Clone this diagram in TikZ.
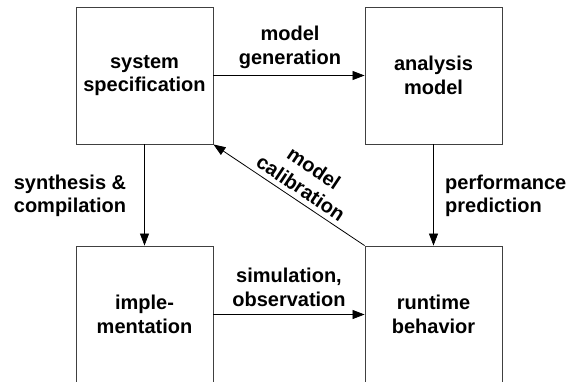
\documentclass[tikz,border=0pt]{standalone}
\usepackage{fontspec}
\setmainfont{Liberation Sans}
\usetikzlibrary{arrows.meta}
\tikzset{
  block/.style={draw=black!75, line width=0.9pt, minimum width=137pt, minimum height=137pt,
    inner sep=0pt, align=center, font=\labelfont},
  lbl/.style={inner sep=0pt, font=\labelfont},
  flow/.style={draw=black, line width=0.8pt, -{Triangle[length=12pt,width=9pt]}},
}
\newcommand{\labelfont}{\fontsize{20pt}{23.5pt}\selectfont\bfseries}
\begin{document}
\begin{tikzpicture}[x=1pt,y=-1pt]
\path[use as bounding box, clip] (0,0) rectangle (570,381);
\fill[white] (0,0) rectangle (570,381);

\node[block] (spec) at (144.5,75.5) {system\\specification};
\node[block] (anal) at (433.5,75.5) {analysis\\model};
\node[block] (impl) at (144.5,314.5) {imple-\\mentation};
\node[block] (run)  at (433.5,314.5) {runtime\\behavior};

\draw[flow] (spec.east) -- (anal.west);
\draw[flow] (spec.south) -- (impl.north);
\draw[flow] (anal.south) -- (run.north);
\draw[flow] (impl.east) -- (run.west);
\draw[flow] (run.north west) -- (spec.south east);

\node[lbl, align=center] (lgen) at (290,47.5) {model\\generation};
\node[lbl, align=center] (lsyn) at (70,196) {synthesis \&\\compilation};
\node[lbl, align=left, anchor=west] (lperf) at (445,196) {performance\\prediction};
\node[lbl, align=center] (lsim) at (289,287.5) {simulation,\\observation};
\node[lbl, align=center, rotate=-33.7] (lcal) at (307.5,178) {model\\calibration};
\end{tikzpicture}
\end{document}
